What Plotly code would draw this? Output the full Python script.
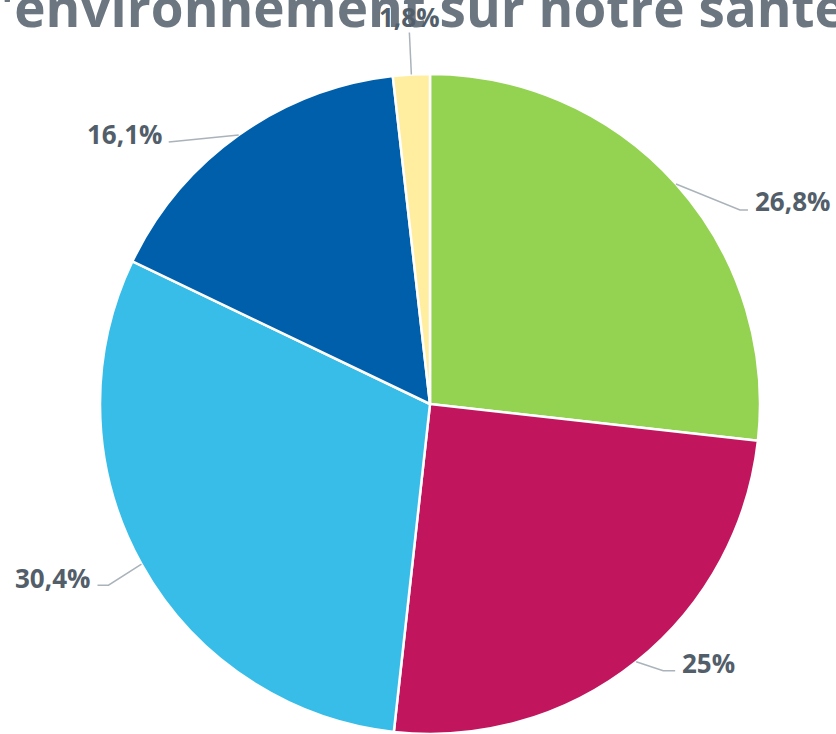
import math
import plotly.graph_objects as go

# data
labels = ["A", "B", "C", "D", "E"]
values = [26.8, 25.0, 30.4, 16.1, 1.8]
value_text = ["26,8%", "25%", "30,4%", "16,1%", "1,8%"]
colors = ["#94d251", "#c1165e", "#38bde8", "#005fab", "#ffee9f"]
title_text = "l'environnement sur notre santé"

W, H = 836, 734
OFF = 0  # page body margin (removed below)
CX, CY, R = 430, 404, 330  # pie centre / radius in screen px


def px(x, y):
    return (x - OFF) / W, 1 - (y - OFF) / H


# label placement relative to slice edge: (bend dx, bend dy, end dx, text dx, text dy)
label_layout = [
    (64, 26, 72, 77, -9),
    (27, 9, 39, 44, -8),
    (-33, 21, -44, -49, -7),
    (-70, 7, -70, -75, -8),
    (-2, -42, -2, -2, -16),
]

fig = go.Figure()
fig.add_trace(go.Pie(
    labels=labels, values=values, sort=False, direction="clockwise",
    rotation=0, textinfo="none", hoverinfo="label+percent",
    marker=dict(colors=colors, line=dict(color="white", width=2.5)),
    domain=dict(x=[px(CX - R, 0)[0], px(CX + R, 0)[0]],
                y=[max(0, px(0, CY + R)[1]), px(0, CY - R)[1]]),
    showlegend=False,
))

# title (partly cut off, as in the original page)
tx, ty = px(-18, 6)
annotations = [dict(
    x=tx, y=ty, xref="paper", yref="paper", text=title_text,
    showarrow=False, xanchor="left", yanchor="middle",
    font=dict(family="Open Sans", size=53, color="#6b7681", weight="bold"),
)]

shapes = []
total = sum(values)
cum = 0
for v, t, lay in zip(values, value_text, label_layout):
    mid = (cum + v / 2) / total * 2 * math.pi
    cum += v
    ex = CX + R * math.sin(mid)
    ey = CY - R * math.cos(mid)
    bdx, bdy, edx, tdx, tdy = lay
    bx, by = ex + bdx, ey + bdy
    endx = ex + edx
    p0 = px(ex, ey)
    p1 = px(bx, by)
    p2 = px(endx, by)
    shapes.append(dict(
        type="path", xref="paper", yref="paper",
        path=f"M {p0[0]},{p0[1]} L {p1[0]},{p1[1]} L {p2[0]},{p2[1]}",
        line=dict(color="#aab3bb", width=1.5),
    ))
    tx, ty = px(ex + tdx, by + tdy)
    if tdx > 5:
        anchor = "left"
    elif tdx < -5:
        anchor = "right"
    else:
        anchor = "center"
    annotations.append(dict(
        x=tx, y=ty, xref="paper", yref="paper", text=t, showarrow=False,
        xanchor=anchor, yanchor="middle",
        font=dict(family="Open Sans", size=26, color="#525e69", weight="bold"),
    ))

fig.update_layout(
    width=W, height=H,
    margin=dict(l=0, r=0, t=0, b=0),
    paper_bgcolor="white", plot_bgcolor="white",
    shapes=shapes, annotations=annotations,
)

fig.write_html("out.html", config={"displayModeBar": False},
               post_script="document.body.style.margin = '0px';")
